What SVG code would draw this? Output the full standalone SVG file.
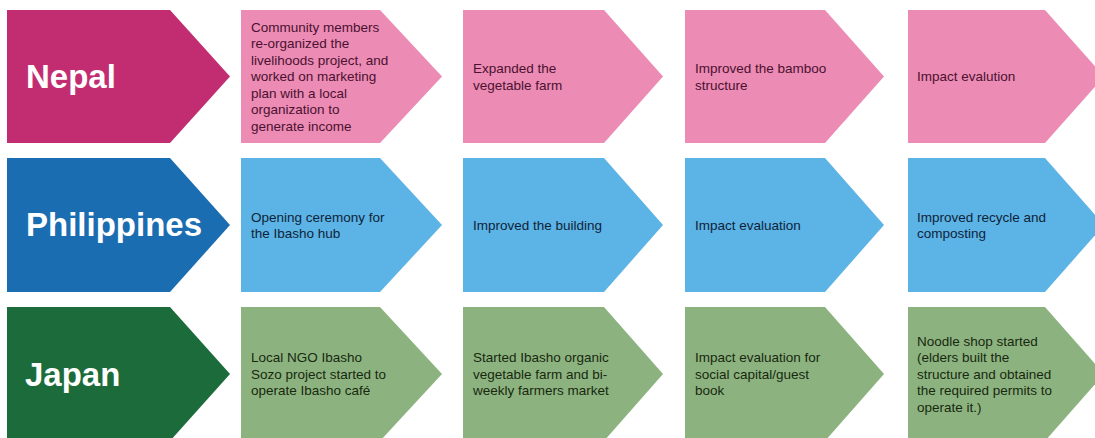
<svg xmlns="http://www.w3.org/2000/svg" width="1095" height="438" viewBox="0 0 1095 438">
<style>
.bg{fill:#ffffff}
.nd{fill:#C22D72}.nl{fill:#EC8BB4}
.pd{fill:#1B6DB2}.pl{fill:#5CB3E6}
.jd{fill:#1B6B3B}.jl{fill:#8CB37F}
.head{font-family:"Liberation Sans",Arial,sans-serif;font-weight:bold;font-size:33px;fill:#ffffff}
.t{font-family:"Liberation Sans",Arial,sans-serif;font-size:13.5px}
.tn{fill:#4A1130}.tp{fill:#0F2338}.tj{fill:#18280F}
</style>
<rect class="bg" x="0" y="0" width="1095" height="438"/>
<g id="connectors"/>
<!-- Row 1: Nepal -->
<g id="nepal">
<polygon class="nd" points="7,10 170,10 230,76.5 170,143 7,143"/>
<text class="head" x="26" y="88">Nepal</text>
</g>
<g id="nepal-1">
<polygon class="nl" points="241,10 380,10 442,76.5 380,143 241,143"/>
<text class="t tn" x="251" y="31.7"><tspan x="251">Community members</tspan><tspan x="251" dy="16.5">re-organized the</tspan><tspan x="251" dy="16.5">livelihoods project, and</tspan><tspan x="251" dy="16.5">worked on marketing</tspan><tspan x="251" dy="16.5">plan with a local</tspan><tspan x="251" dy="16.5">organization to</tspan><tspan x="251" dy="16.5">generate income</tspan></text>
</g>
<g id="nepal-2">
<polygon class="nl" points="463,10 604,10 663,76.5 604,143 463,143"/>
<text class="t tn" x="473" y="73"><tspan x="473">Expanded the</tspan><tspan x="473" dy="16.5">vegetable farm</tspan></text>
</g>
<g id="nepal-3">
<polygon class="nl" points="685,10 825,10 884,76.5 825,143 685,143"/>
<text class="t tn" x="695" y="73"><tspan x="695">Improved the bamboo</tspan><tspan x="695" dy="16.5">structure</tspan></text>
</g>
<g id="nepal-4">
<polygon class="nl" points="908,10 1045,10 1104,76.5 1045,143 908,143"/>
<text class="t tn" x="917" y="81.2">Impact evalution</text>
</g>
<!-- Row 2: Philippines -->
<g id="philippines">
<polygon class="pd" points="7,158 170,158 230,225 170,292 7,292"/>
<text class="head" x="26" y="236">Philippines</text>
</g>
<g id="philippines-1">
<polygon class="pl" points="241,158 380,158 442,225 380,292 241,292"/>
<text class="t tp" x="251" y="221.5"><tspan x="251">Opening ceremony for</tspan><tspan x="251" dy="16.5">the Ibasho hub</tspan></text>
</g>
<g id="philippines-2">
<polygon class="pl" points="463,158 604,158 663,225 604,292 463,292"/>
<text class="t tp" x="473" y="229.7">Improved the building</text>
</g>
<g id="philippines-3">
<polygon class="pl" points="685,158 825,158 884,225 825,292 685,292"/>
<text class="t tp" x="695" y="229.7">Impact evaluation</text>
</g>
<g id="philippines-4">
<polygon class="pl" points="908,158 1045,158 1104,225 1045,292 908,292"/>
<text class="t tp" x="917" y="221.5"><tspan x="917">Improved recycle and</tspan><tspan x="917" dy="16.5">composting</tspan></text>
</g>
<!-- Row 3: Japan -->
<g id="japan">
<polygon class="jd" points="7,307 170,307 230,374 170,441 7,441"/>
<text class="head" x="25" y="386">Japan</text>
</g>
<g id="japan-1">
<polygon class="jl" points="241,307 380,307 442,374 380,441 241,441"/>
<text class="t tj" x="251" y="362.2"><tspan x="251">Local NGO Ibasho</tspan><tspan x="251" dy="16.5">Sozo project started to</tspan><tspan x="251" dy="16.5">operate Ibasho café</tspan></text>
</g>
<g id="japan-2">
<polygon class="jl" points="463,307 604,307 663,374 604,441 463,441"/>
<text class="t tj" x="473" y="362.2"><tspan x="473">Started Ibasho organic</tspan><tspan x="473" dy="16.5">vegetable farm and bi-</tspan><tspan x="473" dy="16.5">weekly farmers market</tspan></text>
</g>
<g id="japan-3">
<polygon class="jl" points="685,307 825,307 884,374 825,441 685,441"/>
<text class="t tj" x="695" y="362.2"><tspan x="695">Impact evaluation for</tspan><tspan x="695" dy="16.5">social capital/guest</tspan><tspan x="695" dy="16.5">book</tspan></text>
</g>
<g id="japan-4">
<polygon class="jl" points="908,307 1045,307 1104,374 1045,441 908,441"/>
<text class="t tj" x="917" y="345.7"><tspan x="917">Noodle shop started</tspan><tspan x="917" dy="16.5">(elders built the</tspan><tspan x="917" dy="16.5">structure and obtained</tspan><tspan x="917" dy="16.5">the required permits to</tspan><tspan x="917" dy="16.5">operate it.)</tspan></text>
</g>
</svg>
